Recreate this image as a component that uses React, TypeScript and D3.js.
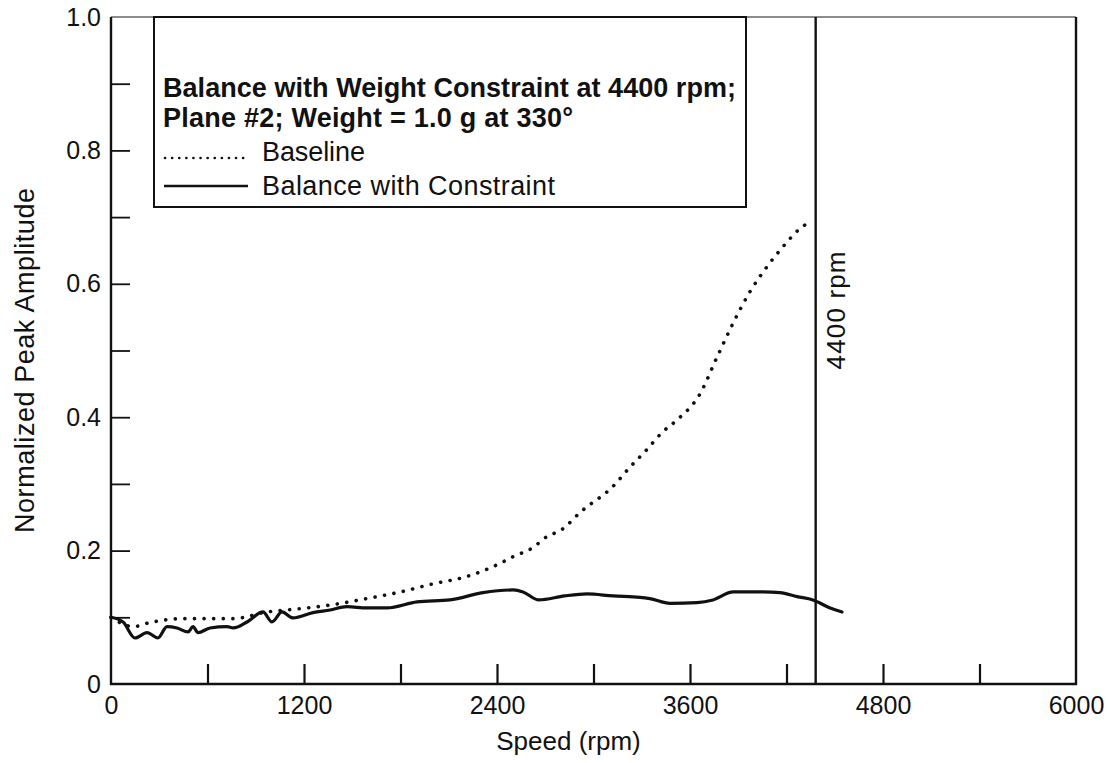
import { useEffect, useRef } from 'react'
import * as d3 from 'd3'

// values
const baselineSpeed = [0, 140, 240, 450, 760, 970, 1180, 1380, 1590, 1800, 2000, 2210, 2420, 2500, 2620, 2710, 2800, 2920, 3120, 3230, 3330, 3430, 3520, 3660, 3770, 3870, 3970, 4080, 4180, 4280, 4360]
const baselineAmp = [0.1, 0.086, 0.092, 0.098, 0.098, 0.108, 0.113, 0.119, 0.128, 0.138, 0.15, 0.161, 0.181, 0.191, 0.204, 0.221, 0.231, 0.258, 0.296, 0.326, 0.351, 0.378, 0.396, 0.434, 0.491, 0.542, 0.587, 0.626, 0.656, 0.682, 0.695]

const constraintSpeed = [0, 75, 149, 224, 292, 348, 410, 479, 510, 541, 616, 721, 760, 846, 945, 1001, 1063, 1132, 1256, 1362, 1467, 1592, 1716, 1903, 2108, 2313, 2500, 2562, 2660, 2820, 2960, 3122, 3289, 3351, 3476, 3644, 3743, 3868, 4054, 4160, 4266, 4365, 4471, 4545]
const constraintAmp = [0.1, 0.093, 0.069, 0.077, 0.069, 0.086, 0.084, 0.078, 0.086, 0.077, 0.084, 0.086, 0.084, 0.093, 0.108, 0.093, 0.108, 0.099, 0.107, 0.111, 0.116, 0.114, 0.114, 0.123, 0.126, 0.137, 0.141, 0.138, 0.126, 0.132, 0.135, 0.132, 0.13, 0.128, 0.121, 0.122, 0.126, 0.138, 0.138, 0.137, 0.131, 0.126, 0.114, 0.108]

const xMinorTicks = [600, 1200, 1800, 2400, 3000, 3600, 4200, 4800, 5400]
const xLabelValues = [0, 1200, 2400, 3600, 4800, 6000]
const xTickLabels = ['0', '1200', '2400', '3600', '4800', '6000']
const yMinorTicks = [0.1, 0.2, 0.3, 0.4, 0.5, 0.6, 0.7, 0.8, 0.9]
const yLabelValues = [0, 0.2, 0.4, 0.6, 0.8, 1.0]
const yTickLabels = ['0', '0.2', '0.4', '0.6', '0.8', '1.0']

const legendTitle = ['Balance with Weight Constraint at 4400 rpm;', 'Plane #2; Weight = 1.0 g at 330°']
const seriesNames = ['Baseline', 'Balance with Constraint']
const markerSpeed = 4400

const width = 1108
const height = 763
const margin = { top: 17, right: 32, bottom: 79, left: 111 }
const font = "'Liberation Sans', Arial, Helvetica, sans-serif"

interface Pt { s: number; a: number }

const App = () => {
  const svgRef = useRef<SVGSVGElement>(null)

  useEffect(() => {
    if (!svgRef.current) return
    const svg = d3.select(svgRef.current)
    svg.selectAll('*').remove()

    const x = d3.scaleLinear().domain([0, 6000]).range([margin.left, width - margin.right])
    const y = d3.scaleLinear().domain([0, 1]).range([height - margin.bottom, margin.top])

    svg.append('rect').attr('width', width).attr('height', height).attr('fill', '#fff')

    // inward ticks
    svg.append('g')
      .attr('transform', `translate(0,${y(0)})`)
      .call(d3.axisBottom(x).tickValues(xMinorTicks).tickSize(-20).tickFormat(() => ''))
      .call(g => g.select('.domain').remove())
      .call(g => g.selectAll('line').attr('stroke', '#111').attr('stroke-width', 2.2))

    svg.append('g')
      .attr('transform', `translate(${x(0)},0)`)
      .call(d3.axisLeft(y).tickValues(yMinorTicks).tickSize(-19).tickFormat(() => ''))
      .call(g => g.select('.domain').remove())
      .call(g => g.selectAll('line').attr('stroke', '#111').attr('stroke-width', 1.8))

    // tick labels
    svg.append('g')
      .attr('transform', `translate(0,${y(0)})`)
      .call(d3.axisBottom(x).tickValues(xLabelValues).tickSize(0).tickPadding(12)
        .tickFormat((_, i) => xTickLabels[i]))
      .call(g => g.select('.domain').remove())
      .call(g => g.selectAll('text').attr('font-size', 25).attr('font-family', font).attr('fill', '#111'))

    svg.append('g')
      .attr('transform', `translate(${x(0)},0)`)
      .call(d3.axisLeft(y).tickValues(yLabelValues).tickSize(0).tickPadding(10)
        .tickFormat((_, i) => yTickLabels[i]))
      .call(g => g.select('.domain').remove())
      .call(g => g.selectAll('text').attr('font-size', 25).attr('font-family', font).attr('fill', '#111'))

    // frame
    const frame = svg.append('g').attr('fill', 'none')
    frame.append('line').attr('x1', x(0)).attr('x2', x(6000)).attr('y1', y(1)).attr('y2', y(1))
      .attr('stroke', '#666').attr('stroke-width', 1.5)
    frame.append('path')
      .attr('d', `M${x(0)},${y(1)}V${y(0)}H${x(6000)}V${y(1)}`)
      .attr('stroke', '#111').attr('stroke-width', 2.4)

    // 4400 rpm marker
    svg.append('line')
      .attr('x1', x(markerSpeed) - 3).attr('x2', x(markerSpeed) - 3)
      .attr('y1', y(1)).attr('y2', y(0))
      .attr('stroke', '#111').attr('stroke-width', 2.4)
    svg.append('text')
      .attr('transform', `translate(${x(markerSpeed) + 26},${y(0.56)}) rotate(-90)`)
      .attr('text-anchor', 'middle')
      .attr('font-size', 26).attr('font-family', font).attr('fill', '#111')
      .attr('textLength', 118).attr('lengthAdjust', 'spacing')
      .text(`${markerSpeed} rpm`)

    // series
    const line = d3.line<Pt>().x(d => x(d.s)).y(d => y(d.a)).curve(d3.curveMonotoneX)
    const baseline: Pt[] = baselineSpeed.map((s, i) => ({ s, a: baselineAmp[i] }))
    const constraint: Pt[] = constraintSpeed.map((s, i) => ({ s, a: constraintAmp[i] }))

    svg.append('path').datum(baseline)
      .attr('fill', 'none').attr('stroke', '#111').attr('stroke-width', 3.6)
      .attr('stroke-linecap', 'round').attr('stroke-dasharray', '0.1 9.5')
      .attr('d', line)

    svg.append('path').datum(constraint)
      .attr('fill', 'none').attr('stroke', '#111').attr('stroke-width', 3.2)
      .attr('stroke-linejoin', 'round').attr('stroke-linecap', 'round')
      .attr('d', line)

    // legend
    const lg = svg.append('g')
    lg.append('rect')
      .attr('x', 154).attr('y', y(1)).attr('width', 592).attr('height', 190)
      .attr('fill', '#fff').attr('stroke', '#111').attr('stroke-width', 2)
    legendTitle.forEach((t, i) => {
      lg.append('text')
        .attr('x', 163).attr('y', 97 + i * 30)
        .attr('font-size', 27).attr('font-weight', 'bold').attr('font-family', font).attr('fill', '#111')
        .attr('textLength', i === 0 ? 573 : 410).attr('lengthAdjust', 'spacing')
        .text(t)
    })
    const itemY = [161, 195]
    lg.append('line').attr('x1', 165).attr('x2', 248).attr('y1', itemY[0] - 3).attr('y2', itemY[0] - 3)
      .attr('stroke', '#111').attr('stroke-width', 2.6).attr('stroke-linecap', 'round')
      .attr('stroke-dasharray', '0.1 7')
    lg.append('line').attr('x1', 164).attr('x2', 248).attr('y1', itemY[1] - 9).attr('y2', itemY[1] - 9)
      .attr('stroke', '#111').attr('stroke-width', 2.6)
    seriesNames.forEach((n, i) => {
      lg.append('text')
        .attr('x', 262).attr('y', itemY[i])
        .attr('font-size', 27).attr('font-family', font).attr('fill', '#111')
        .attr('textLength', i === 0 ? 103 : 293).attr('lengthAdjust', 'spacing')
        .text(n)
    })

    // axis titles
    svg.append('text')
      .attr('x', (x(0) + x(6000)) / 2 - 25).attr('y', 750)
      .attr('text-anchor', 'middle')
      .attr('font-size', 26).attr('font-family', font).attr('fill', '#111')
      .text('Speed (rpm)')
    svg.append('text')
      .attr('transform', `translate(34,${y(0.485)}) rotate(-90)`)
      .attr('text-anchor', 'middle')
      .attr('font-size', 27).attr('font-family', font).attr('fill', '#111')
      .attr('textLength', 345).attr('lengthAdjust', 'spacing')
      .text('Normalized Peak Amplitude')
  }, [])

  return (
    <div style={{ position: 'absolute', left: 0, top: 0 }}>
      <svg ref={svgRef} width={width} height={height} style={{ display: 'block' }} />
    </div>
  )
}

export default App
